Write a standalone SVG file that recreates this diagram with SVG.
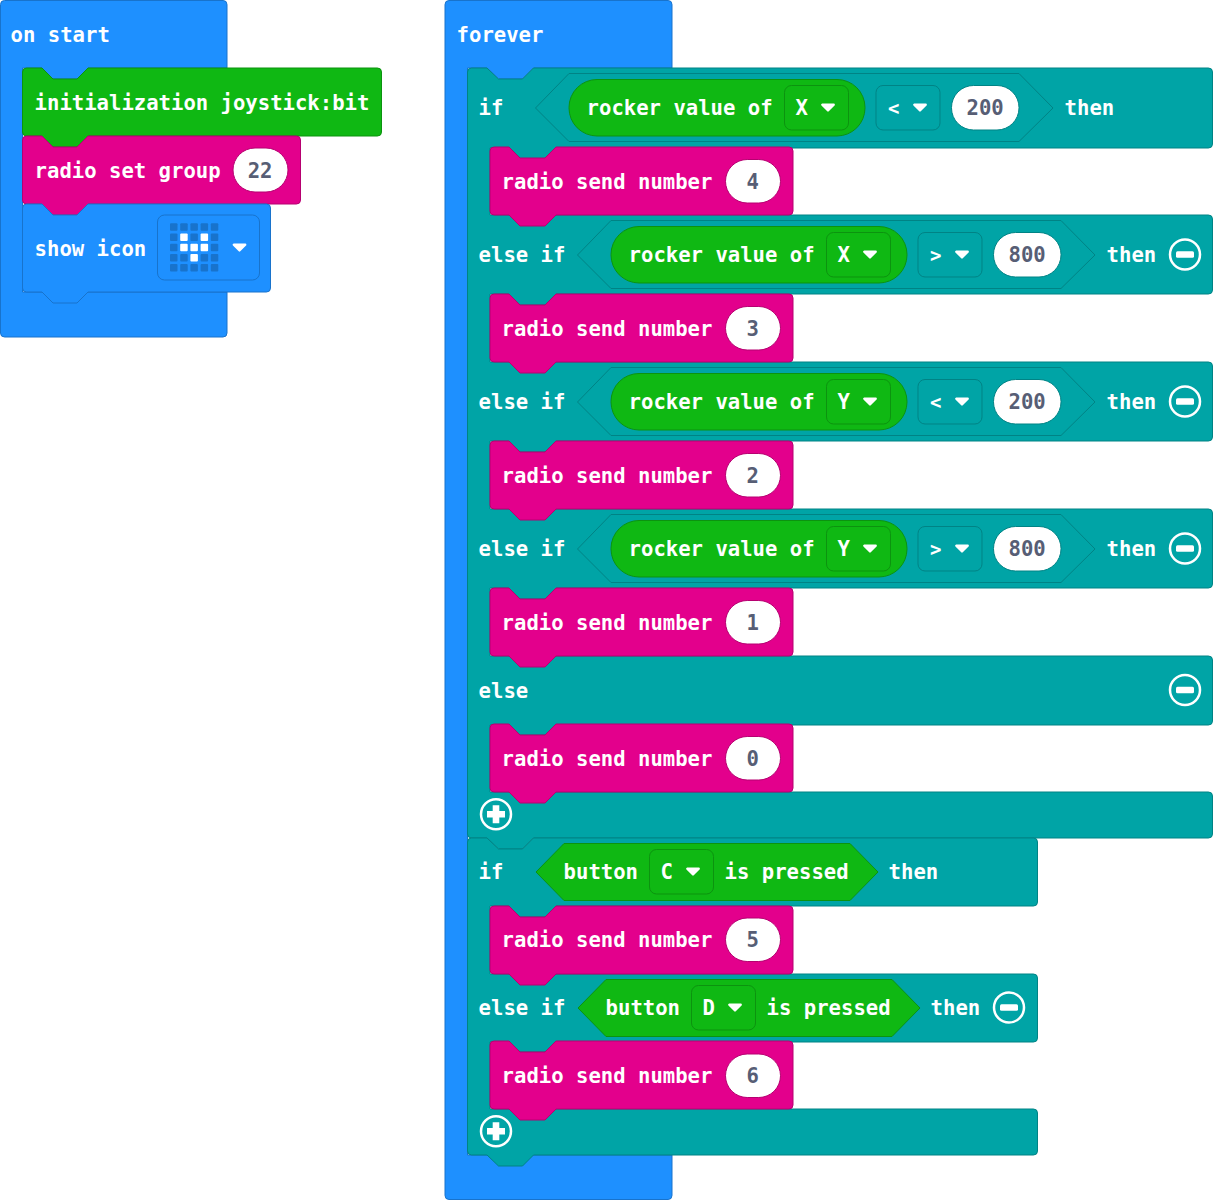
<svg xmlns="http://www.w3.org/2000/svg" xmlns:xlink="http://www.w3.org/1999/xlink" width="1213" height="1200" viewBox="0 0 1213 1200">
<style>
text{font-family:"DejaVu Sans Mono","Liberation Mono",monospace;font-size:20.6px;font-weight:bold;fill:#fff;transform:translate(-.4px,.3px)}
text.v{fill:#575E75;text-anchor:middle}
text.o{font-size:19px}
.blue{fill:#1E90FF;stroke:#1873CC}
.teal{fill:#00A4A6;stroke:#008385}
.green{fill:#0FB813;stroke:#0C930F}
.pink{fill:#E3008C;stroke:#B60070}
.pill{fill:#fff;stroke:#B60070}
.pillt{fill:#fff;stroke:#008385}
.hex{fill:#00A4A6;stroke:#008385}
.dt{fill:#00A4A6;stroke:#008385}
.dg{fill:#0FB813;stroke:#0C930F}
.cell{fill:#1873CC}
.on{fill:#fff}
</style>
<defs>
<path id="caret" fill="#fff" stroke="#fff" stroke-width="2.200" stroke-linejoin="round" d="M-5.800 -2.800H5.800L0 3Z"/>
<path id="send" class="pink" d="M4 0H19L30 11H55L66 0H299Q303 0 303 4V64Q303 68 299 68H66L55 79H30L19 68H4Q0 68 0 64V4Q0 0 4 0Z"/>
<g id="minus"><circle r="15" fill="none" stroke="#fff" stroke-width="2.500"/><rect x="-9" y="-3.300" width="18" height="6.600" rx="1.500" fill="#fff"/></g>
<g id="plus"><circle r="15" fill="none" stroke="#fff" stroke-width="2.500"/><path fill="#fff" d="M-3.300 -9H3.300V-3.300H9V3.300H3.300V9H-3.300V3.300H-9V-3.300H-3.300Z"/></g>
<g id="ddg"><rect width="64" height="44.500" rx="7" class="dg"/><use xlink:href="#caret" href="#caret" x="43.500" y="22"/></g>
<g id="ddt"><rect width="64" height="44.500" rx="7" class="dt"/><use xlink:href="#caret" href="#caret" x="44" y="22"/></g>
<rect id="c" width="7.500" height="7.500" rx="1"/>
</defs>

<g id="on-start">
<path class="blue" d="M4.500 .5H223Q227 .5 227 4.500V68H88L77 79H53L42 68H22.500V292H227V333Q227 337 223 337H4.500Q.5 337 .5 333V4.500Q.5 .5 4.500 .5Z"/>
<text x="11" y="42">on start</text>
</g>
<g id="initialization">
<path class="green" d="M26.500 68H42L53 79H77L88 68H377.500Q381.500 68 381.500 72V132Q381.500 136 377.500 136H88L77 147H53L42 136H26.500Q22.500 136 22.500 132V72Q22.500 68 26.500 68Z"/>
<text x="35" y="110">initialization joystick:bit</text>
</g>
<g id="radio-set-group">
<path class="pink" d="M26.500 136H42L53 147H77L88 136H296.500Q300.500 136 300.500 140V200Q300.500 204 296.500 204H88L77 215H53L42 204H26.500Q22.500 204 22.500 200V140Q22.500 136 26.500 136Z"/>
<text x="35" y="178">radio set group</text>
<rect class="pill" x="233" y="148" width="55" height="44" rx="22"/><text class="v" x="260.500" y="178">22</text>
</g>
<g id="show-icon">
<path class="blue" d="M26.500 204H42L53 215H77L88 204H266.500Q270.500 204 270.500 208V288Q270.500 292 266.500 292H88L77 303H53L42 292H26.500Q22.500 292 22.500 288V208Q22.500 204 26.500 204Z"/>
<text x="35" y="256">show icon</text>
<rect x="157.500" y="215" width="102" height="65" rx="7" fill="#1E90FF" stroke="#1873CC"/>
<g class="cell">
<use href="#c" xlink:href="#c" x="170" y="223.300"/><use href="#c" xlink:href="#c" x="180.200" y="223.300"/><use href="#c" xlink:href="#c" x="190.400" y="223.300"/><use href="#c" xlink:href="#c" x="200.600" y="223.300"/><use href="#c" xlink:href="#c" x="210.800" y="223.300"/>
<use href="#c" xlink:href="#c" x="170" y="233.500"/><use href="#c" xlink:href="#c" x="190.400" y="233.500"/><use href="#c" xlink:href="#c" x="210.800" y="233.500"/>
<use href="#c" xlink:href="#c" x="170" y="243.700"/><use href="#c" xlink:href="#c" x="210.800" y="243.700"/>
<use href="#c" xlink:href="#c" x="170" y="253.900"/><use href="#c" xlink:href="#c" x="180.200" y="253.900"/><use href="#c" xlink:href="#c" x="200.600" y="253.900"/><use href="#c" xlink:href="#c" x="210.800" y="253.900"/>
<use href="#c" xlink:href="#c" x="170" y="264.100"/><use href="#c" xlink:href="#c" x="180.200" y="264.100"/><use href="#c" xlink:href="#c" x="190.400" y="264.100"/><use href="#c" xlink:href="#c" x="200.600" y="264.100"/><use href="#c" xlink:href="#c" x="210.800" y="264.100"/>
</g>
<g class="on">
<use href="#c" xlink:href="#c" x="180.200" y="233.500"/><use href="#c" xlink:href="#c" x="200.600" y="233.500"/>
<use href="#c" xlink:href="#c" x="180.200" y="243.700"/><use href="#c" xlink:href="#c" x="190.400" y="243.700"/><use href="#c" xlink:href="#c" x="200.600" y="243.700"/>
<use href="#c" xlink:href="#c" x="190.400" y="253.900"/>
</g>
<use href="#caret" xlink:href="#caret" x="239.500" y="247.500"/>
</g>

<g id="forever">
<path class="blue" d="M449 .5H668Q672 .5 672 4.500V68H533.500L522.500 79H498.500L487 68H467.500V1155H672V1195.500Q672 1199.500 668 1199.500H449Q445 1199.500 445 1195.500V4.500Q445 .5 449 .5Z"/>
<text x="457" y="42">forever</text>
</g>

<g id="if-rocker">
<path class="teal" d="M471.500 68H487L498.500 79H522.500L533.500 68H1208.500Q1212.500 68 1212.500 72V144Q1212.500 148 1208.500 148H556L545 159H520L509 148H490V215H1208.500Q1212.500 215 1212.500 219V290Q1212.500 294 1208.500 294H556L545 305H520L509 294H490V362H1208.500Q1212.500 362 1212.500 366V437Q1212.500 441 1208.500 441H556L545 452H520L509 441H490V509H1208.500Q1212.500 509 1212.500 513V584Q1212.500 588 1208.500 588H556L545 599H520L509 588H490V656H1208.500Q1212.500 656 1212.500 660V721Q1212.500 725 1208.500 725H556L545 735H520L509 725H490V792H1208.500Q1212.500 792 1212.500 796V834Q1212.500 838 1208.500 838H533.500L522.500 849H498.500L487 838H471.500Q467.500 838 467.500 834V72Q467.500 68 471.500 68Z"/>
<text x="479" y="115">if</text>
<path class="hex" d="M569 73.500H1019L1053 108L1019 141.500H569L535.500 108Z"/>
<rect class="green" x="569" y="79.500" width="296" height="56.500" rx="28"/>
<text x="587" y="115">rocker value of</text>
<use href="#ddg" xlink:href="#ddg" x="784.500" y="85.500"/><text x="796" y="115">X</text>
<use href="#ddt" xlink:href="#ddt" x="876" y="85.500"/><text class="o" x="888.500" y="115">&lt;</text>
<rect class="pillt" x="951.500" y="85.500" width="67.500" height="44.500" rx="22"/><text class="v" x="985.500" y="115">200</text>
<text x="1065" y="115">then</text>

<text x="479" y="262">else if</text>
<path class="hex" d="M611 220.500H1061L1095 255L1061 288.500H611L577.500 255Z"/>
<rect class="green" x="611" y="226.500" width="296" height="56.500" rx="28"/>
<text x="629" y="262">rocker value of</text>
<use href="#ddg" xlink:href="#ddg" x="826.500" y="232.500"/><text x="838" y="262">X</text>
<use href="#ddt" xlink:href="#ddt" x="918" y="232.500"/><text class="o" x="930.500" y="262">&gt;</text>
<rect class="pillt" x="993.500" y="232.500" width="67.500" height="44.500" rx="22"/><text class="v" x="1027.500" y="262">800</text>
<text x="1107" y="262">then</text>
<use href="#minus" xlink:href="#minus" x="1185" y="254.500"/>

<text x="479" y="409">else if</text>
<path class="hex" d="M611 367.500H1061L1095 402L1061 435.500H611L577.500 402Z"/>
<rect class="green" x="611" y="373.500" width="296" height="56.500" rx="28"/>
<text x="629" y="409">rocker value of</text>
<use href="#ddg" xlink:href="#ddg" x="826.500" y="379.500"/><text x="838" y="409">Y</text>
<use href="#ddt" xlink:href="#ddt" x="918" y="379.500"/><text class="o" x="930.500" y="409">&lt;</text>
<rect class="pillt" x="993.500" y="379.500" width="67.500" height="44.500" rx="22"/><text class="v" x="1027.500" y="409">200</text>
<text x="1107" y="409">then</text>
<use href="#minus" xlink:href="#minus" x="1185" y="401.500"/>

<text x="479" y="556">else if</text>
<path class="hex" d="M611 514.500H1061L1095 549L1061 582.500H611L577.500 549Z"/>
<rect class="green" x="611" y="520.500" width="296" height="56.500" rx="28"/>
<text x="629" y="556">rocker value of</text>
<use href="#ddg" xlink:href="#ddg" x="826.500" y="526.500"/><text x="838" y="556">Y</text>
<use href="#ddt" xlink:href="#ddt" x="918" y="526.500"/><text class="o" x="930.500" y="556">&gt;</text>
<rect class="pillt" x="993.500" y="526.500" width="67.500" height="44.500" rx="22"/><text class="v" x="1027.500" y="556">800</text>
<text x="1107" y="556">then</text>
<use href="#minus" xlink:href="#minus" x="1185" y="548.500"/>

<text x="479" y="698">else</text>
<use href="#minus" xlink:href="#minus" x="1185" y="690"/>
<use href="#plus" xlink:href="#plus" x="496" y="814.300"/>
</g>

<g id="send-4"><use href="#send" xlink:href="#send" x="490" y="147"/><text x="502" y="189">radio send number</text><rect class="pill" x="725.500" y="159.500" width="55" height="43.500" rx="21.700"/><text class="v" x="753" y="189">4</text></g>
<g id="send-3"><use href="#send" xlink:href="#send" x="490" y="294"/><text x="502" y="336">radio send number</text><rect class="pill" x="725.500" y="306.500" width="55" height="43.500" rx="21.700"/><text class="v" x="753" y="336">3</text></g>
<g id="send-2"><use href="#send" xlink:href="#send" x="490" y="441"/><text x="502" y="483">radio send number</text><rect class="pill" x="725.500" y="453.500" width="55" height="43.500" rx="21.700"/><text class="v" x="753" y="483">2</text></g>
<g id="send-1"><use href="#send" xlink:href="#send" x="490" y="588"/><text x="502" y="630">radio send number</text><rect class="pill" x="725.500" y="600.500" width="55" height="43.500" rx="21.700"/><text class="v" x="753" y="630">1</text></g>
<g id="send-0"><use href="#send" xlink:href="#send" x="490" y="724"/><text x="502" y="766">radio send number</text><rect class="pill" x="725.500" y="736.500" width="55" height="43.500" rx="21.700"/><text class="v" x="753" y="766">0</text></g>

<g id="if-button">
<path class="teal" d="M471.500 838H487L498.500 849H522.500L533.500 838H1033.500Q1037.500 838 1037.500 842V902Q1037.500 906 1033.500 906H556L545 917H520L509 906H490V974H1033.500Q1037.500 974 1037.500 978V1038Q1037.500 1042 1033.500 1042H556L545 1052H520L509 1042H490V1109H1033.500Q1037.500 1109 1037.500 1113V1151Q1037.500 1155 1033.500 1155H533.500L522.500 1166H498.500L487 1155H471.500Q467.500 1155 467.500 1151V842Q467.500 838 471.500 838Z"/>
<text x="479" y="879">if</text>
<path class="green" d="M564 843.500H850L878 872L850 900.500H564L536 872Z"/>
<text x="564" y="879">button</text>
<use href="#ddg" xlink:href="#ddg" x="649.500" y="849.500"/><text x="661" y="879">C</text>
<text x="725" y="879">is pressed</text>
<text x="889" y="879">then</text>

<text x="479" y="1015">else if</text>
<path class="green" d="M606 979.500H892L920 1008L892 1036.500H606L578 1008Z"/>
<text x="606" y="1015">button</text>
<use href="#ddg" xlink:href="#ddg" x="691.500" y="985.500"/><text x="703" y="1015">D</text>
<text x="767" y="1015">is pressed</text>
<text x="931" y="1015">then</text>
<use href="#minus" xlink:href="#minus" x="1009" y="1007.500"/>
<use href="#plus" xlink:href="#plus" x="496" y="1131.300"/>
</g>

<g id="send-5"><use href="#send" xlink:href="#send" x="490" y="906"/><text x="502" y="947">radio send number</text><rect class="pill" x="725.500" y="918" width="55" height="43.500" rx="21.700"/><text class="v" x="753" y="947">5</text></g>
<g id="send-6"><use href="#send" xlink:href="#send" x="490" y="1041"/><text x="502" y="1083">radio send number</text><rect class="pill" x="725.500" y="1054" width="55" height="43.500" rx="21.700"/><text class="v" x="753" y="1083">6</text></g>
</svg>
